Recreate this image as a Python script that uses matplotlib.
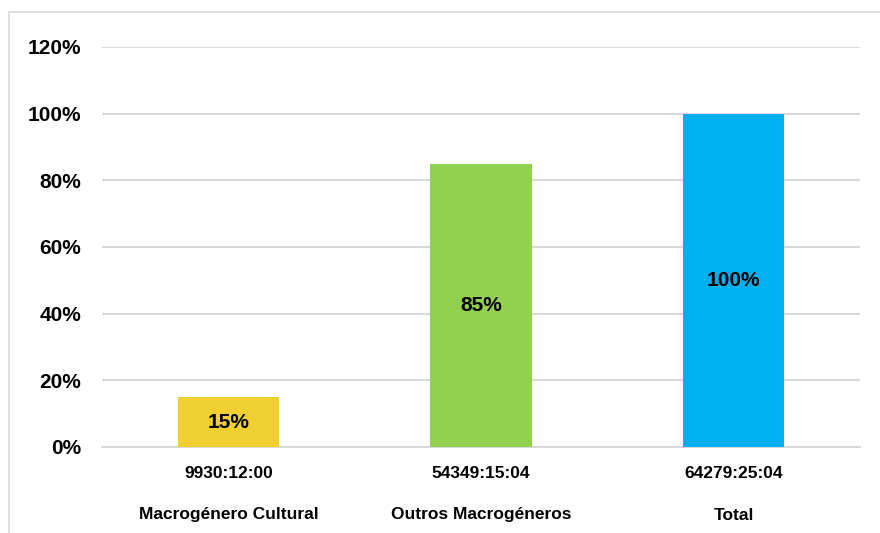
import matplotlib.pyplot as plt
import matplotlib.font_manager as fm
from matplotlib.patches import Rectangle
from matplotlib.ticker import FuncFormatter

# --- dados ---
categorias = ['Macrogénero Cultural', 'Outros Macrogéneros', 'Total']
horas = ['9930:12:00', '54349:15:04', '64279:25:04']
percentagens = [15, 85, 100]
cores = ['#F0D030', '#92D050', '#00B0F0']

# fonte condensada se existir
nomes = {f.name for f in fm.fontManager.ttflist}
narrow = 'Liberation Sans Narrow' if 'Liberation Sans Narrow' in nomes else 'Liberation Sans'

plt.rcParams['font.family'] = ['Liberation Sans', 'DejaVu Sans']

fig = plt.figure(figsize=(8.8, 5.33), dpi=100)
ax = fig.add_axes([102 / 880, 1 - 447 / 533, 758 / 880, 400 / 533])

x = range(len(categorias))
bars = ax.bar(x, percentagens, width=0.40, color=cores, zorder=3)

for b, p in zip(bars, percentagens):
    ax.text(b.get_x() + b.get_width() / 2, p / 2, f'{p}%', ha='center', va='center',
            fontsize=15, fontweight='bold', color='black', zorder=4)

ax.set_xlim(-0.5, 2.5)
ax.set_ylim(0, 120)
ax.set_yticks(range(0, 121, 20))
ax.yaxis.set_major_formatter(FuncFormatter(lambda v, pos: f'{int(v)}%'))
for lbl in ax.get_yticklabels():
    lbl.set_fontweight('bold')
    lbl.set_fontsize(15)
ax.tick_params(axis='y', length=0, pad=15)
ax.grid(axis='y', color='#D9D9D9', linewidth=1.5, zorder=0)

ax.set_xticks([])
for i, (h, c) in enumerate(zip(horas, categorias)):
    ax.text(i, -8.1, h, ha='center', va='center', fontsize=12.5, fontweight='bold',
            family=narrow, transform=ax.transData, clip_on=False)
    ax.text(i, -20.4, c, ha='center', va='center', fontsize=12.5, fontweight='bold',
            family=narrow, transform=ax.transData, clip_on=False)

for s in ['top', 'right', 'left']:
    ax.spines[s].set_visible(False)
ax.spines['bottom'].set_color('#D9D9D9')
ax.spines['bottom'].set_linewidth(1.5)

# moldura do gráfico (cortada à direita e em baixo)
fig.add_artist(Rectangle((9 / 880, -0.1), 1.2, 1.1 - 12 / 533, transform=fig.transFigure,
                         fill=False, edgecolor='#D9D9D9', linewidth=1.2))

fig.savefig('out.png', dpi=100)
